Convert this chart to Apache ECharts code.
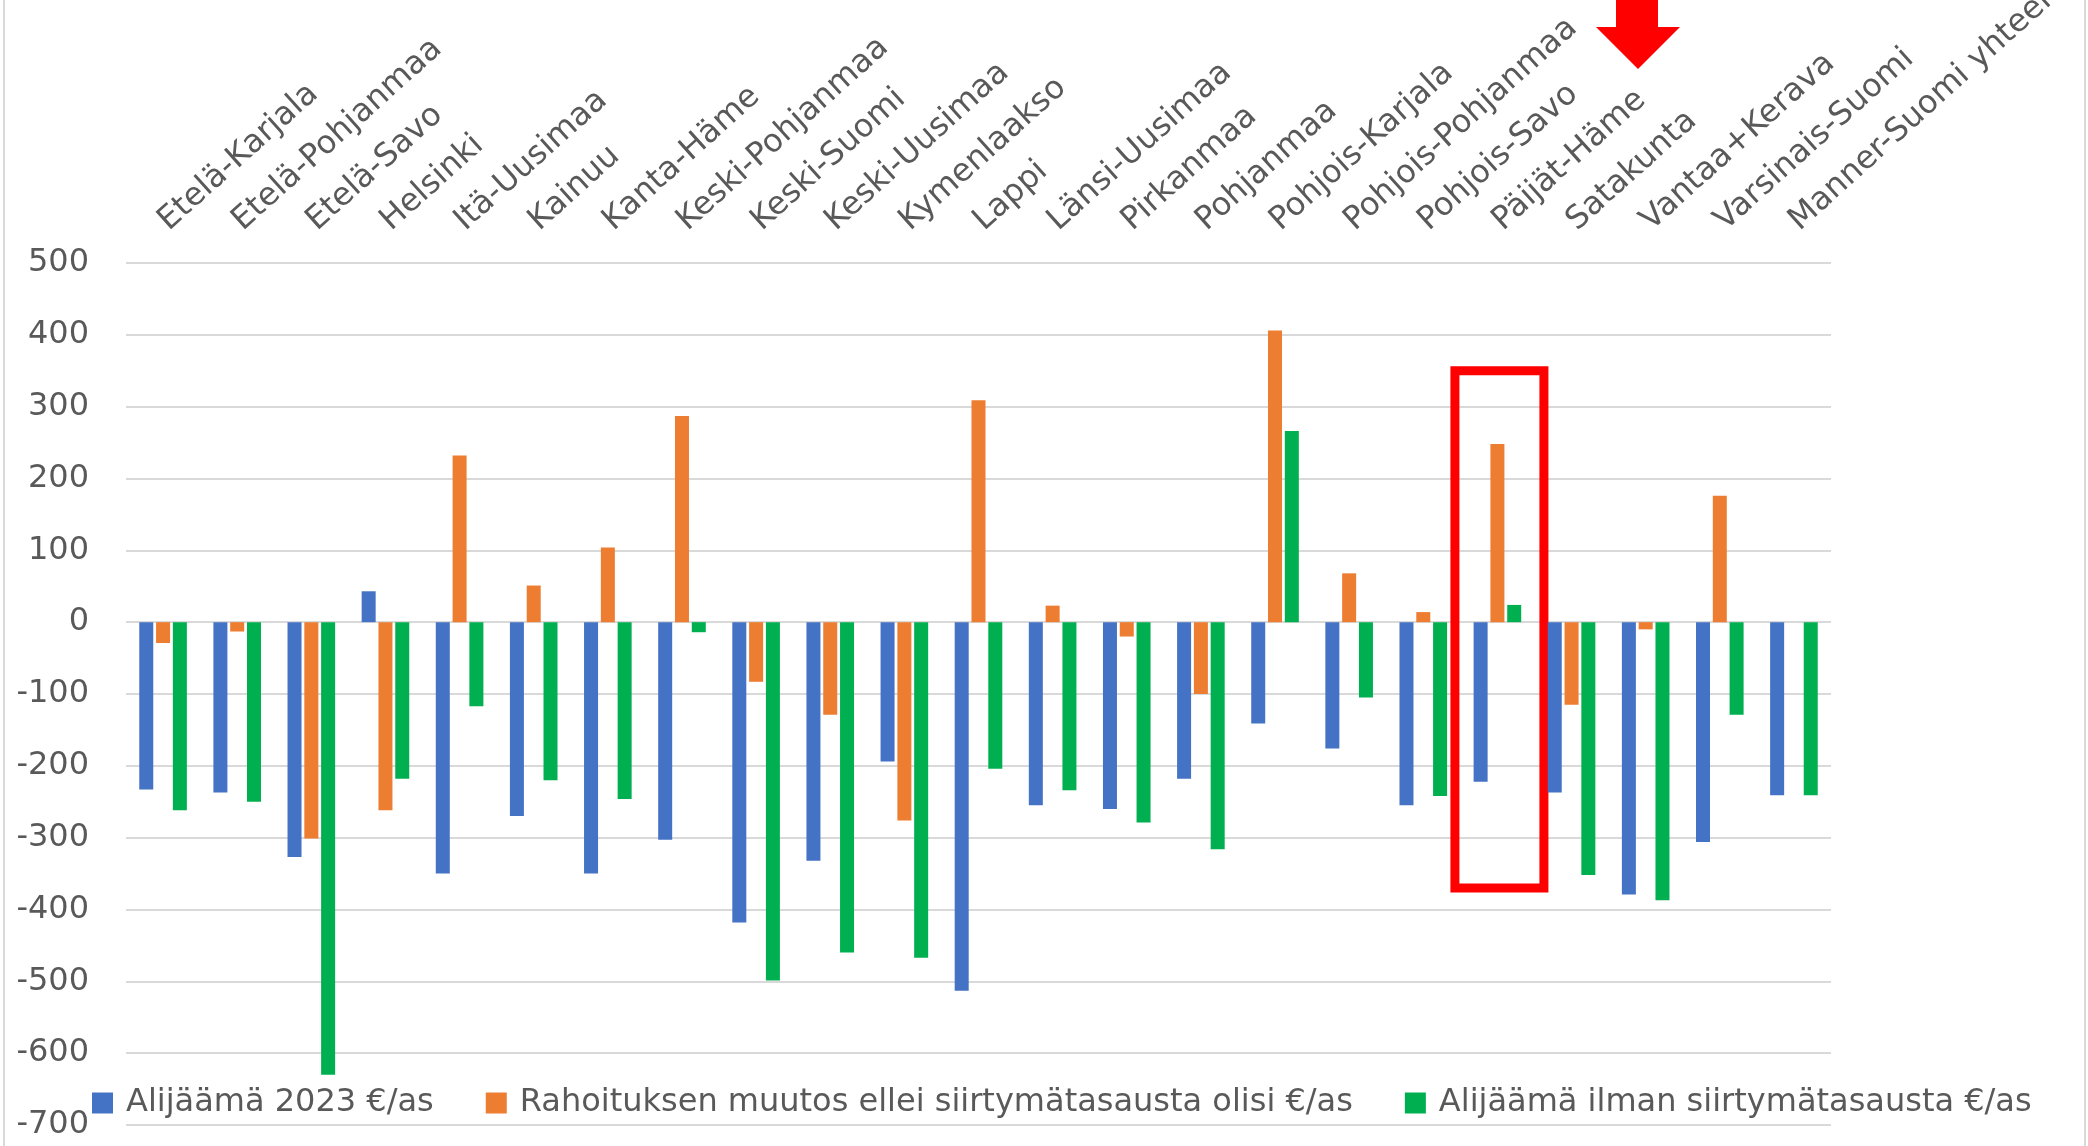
<!DOCTYPE html>
<html>
<head>
<meta charset="utf-8">
<script src="https://cdn.jsdelivr.net/npm/echarts@6/dist/echarts.min.js"></script>
<style>
  html, body { margin: 0; padding: 0; background: #fff; }
  #chart { width: 2088px; height: 1146px; }
</style>
</head>
<body>
<div id="chart"></div>
<script>
// alueet
const regions = [
  "Etelä-Karjala", "Etelä-Pohjanmaa", "Etelä-Savo", "Helsinki", "Itä-Uusimaa",
  "Kainuu", "Kanta-Häme", "Keski-Pohjanmaa", "Keski-Suomi", "Keski-Uusimaa",
  "Kymenlaakso", "Lappi", "Länsi-Uusimaa", "Pirkanmaa", "Pohjanmaa",
  "Pohjois-Karjala", "Pohjois-Pohjanmaa", "Pohjois-Savo", "Päijät-Häme",
  "Satakunta", "Vantaa+Kerava", "Varsinais-Suomi", "Manner-Suomi yhteensä"
];

const seriesNames = [
  "Alijäämä 2023 €/as",
  "Rahoituksen muutos ellei siirtymätasausta olisi €/as",
  "Alijäämä ilman siirtymätasausta €/as"
];

const deficit2023 = [
  -233, -237, -327, 43, -350, -270, -350, -303, -418, -332, -194, -513,
  -255, -260, -218, -141, -176, -255, -222, -237, -379, -306, -241
];
const fundingChange = [
  -29, -13, -301, -262, 232, 51, 104, 287, -83, -129, -276, 309,
  23, -20, -100, 406, 68, 14, 248, -115, -10, 176, 0
];
const deficitNoBalancing = [
  -262, -250, -630, -218, -117, -220, -246, -14, -499, -460, -467, -204,
  -234, -279, -316, 266, -105, -242, 24, -352, -387, -129, -241
];

const colors = ["#4472C4", "#ED7D31", "#00B050"];
const textColor = "#595959";
const font = "DejaVu Sans";

const chart = echarts.init(document.getElementById("chart"));

chart.setOption({
  animation: false,
  backgroundColor: "#fff",
  grid: { left: 126, right: 257, top: 263, bottom: 21, outerBoundsMode: "none" },
  legend: {
    left: 87,
    top: 1082,
    itemWidth: 21,
    itemHeight: 21,
    itemGap: 52,
    icon: "rect",
    textStyle: { fontSize: 32, color: textColor, fontFamily: font, padding: [0, 0, 0, 8] },
    data: seriesNames
  },
  xAxis: {
    type: "category",
    position: "top",
    data: regions,
    axisLine: { show: false, onZero: false },
    axisTick: { show: false },
    axisLabel: {
      interval: 0,
      rotate: -42,
      margin: 38,
      fontSize: 32,
      color: textColor,
      fontFamily: font
    },
    splitLine: { show: false }
  },
  yAxis: {
    type: "value",
    min: -700,
    max: 500,
    interval: 100,
    axisLine: { show: false },
    axisTick: { show: false },
    axisLabel: { fontSize: 32, margin: 37, color: textColor, fontFamily: font },
    splitLine: { lineStyle: { color: "#d9d9d9", width: 2 } }
  },
  series: [
    { name: seriesNames[0], type: "bar", data: deficit2023, barWidth: 14, barGap: "20%", itemStyle: { color: colors[0] } },
    { name: seriesNames[1], type: "bar", data: fundingChange, barWidth: 14, barGap: "20%", itemStyle: { color: colors[1] } },
    { name: seriesNames[2], type: "bar", data: deficitNoBalancing, barWidth: 14, barGap: "20%", itemStyle: { color: colors[2] } }
  ]
});

// punainen korostus Päijät-Hämeen ympärille
const idx = regions.indexOf("Päijät-Häme");
const topLeft = chart.convertToPixel({ gridIndex: 0 }, [idx, 350]);
const bottomRight = chart.convertToPixel({ gridIndex: 0 }, [idx, -370]);
const boxW = 89;

chart.setOption({
  graphic: [
    { type: "line", shape: { x1: 4, y1: 0, x2: 4, y2: 1146 }, style: { stroke: "#d9d9d9", lineWidth: 2 } },
    { type: "line", shape: { x1: 2085, y1: 0, x2: 2085, y2: 1146 }, style: { stroke: "#d9d9d9", lineWidth: 2 } },
    {
      type: "rect",
      shape: { x: topLeft[0] + 2 - boxW / 2, y: topLeft[1], width: boxW, height: bottomRight[1] - topLeft[1] },
      style: { fill: null, stroke: "#ff0000", lineWidth: 9 }
    },
    {
      type: "polygon",
      shape: { points: [[1616, -5], [1658, -5], [1658, 27], [1680, 27], [1638, 69], [1596, 27], [1616, 27]] },
      style: { fill: "#ff0000" }
    }
  ]
});
</script>
</body>
</html>
